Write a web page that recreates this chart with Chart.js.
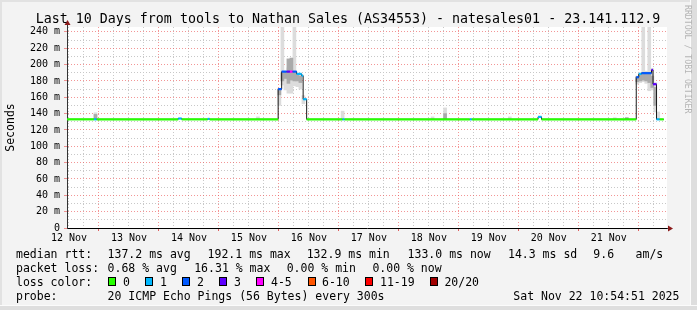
<!DOCTYPE html>
<html>
<head>
<meta charset="utf-8">
<script src="https://cdn.jsdelivr.net/npm/chart.js@4.4.1/dist/chart.umd.min.js"></script>
<style>
  body { margin: 0; background: #f3f3f3; }
  #frame { position: absolute; left: 0; top: 0; width: 697px; height: 310px; background: #f3f3f3; overflow: hidden; }
  #edgeR { position: absolute; left: 690px; top: 0; width: 7px; height: 310px; background: #dedede; border-left: 1px solid #fbfbfb; }
  #edgeB { position: absolute; left: 0; top: 305px; width: 697px; height: 5px; background: #dedede; border-top: 1px solid #fbfbfb; }
  #edgeT { position: absolute; left: 0; top: 0; width: 697px; height: 2px; background: #e2e2e2; }
  #edgeL { position: absolute; left: 0; top: 0; width: 2px; height: 310px; background: #e2e2e2; }
  canvas { position: absolute; left: 0; top: 0; }
  .t { position: absolute; font-family: 'DejaVu Sans Mono', monospace; font-size: 11.5px; line-height: 14px; color: #000; white-space: pre; }
  #title { position: absolute; left: 0; top: 11px; width: 696px; text-align: center; font-family: 'DejaVu Sans Mono', monospace; font-size: 13.3px; line-height: 16px; color: #000; white-space: pre; }
  #credit { position: absolute; left: 683px; top: 5px; writing-mode: vertical-rl; font-family: 'DejaVu Sans Mono', monospace; font-size: 8.2px; color: #b4b4b4; white-space: pre; }
  .sq { position: absolute; width: 8px; height: 9px; box-sizing: border-box; border: 1px solid #000; top: 277px; }
</style>
</head>
<body>
<div id="frame">
  <div id="edgeT"></div><div id="edgeL"></div><div id="edgeR"></div><div id="edgeB"></div>
  <canvas id="chart" width="697" height="250"></canvas>
  <div id="title">Last 10 Days from tools to Nathan Sales (AS34553) - natesales01 - 23.141.112.9</div>
  <div id="credit">RRDTOOL / TOBI OETIKER</div>

  <div class="t" style="left:16px;top:247px">median rtt:</div>
  <div class="t" style="left:107.6px;top:247px">137.2 ms avg</div>
  <div class="t" style="left:207.6px;top:247px">192.1 ms max</div>
  <div class="t" style="left:306.7px;top:247px">132.9 ms min</div>
  <div class="t" style="left:407.6px;top:247px">133.0 ms now</div>
  <div class="t" style="left:508px;top:247px">14.3 ms sd</div>
  <div class="t" style="left:593.3px;top:247px">9.6</div>
  <div class="t" style="left:635.6px;top:247px">am/s</div>

  <div class="t" style="left:16px;top:261px">packet loss:</div>
  <div class="t" style="left:107.6px;top:261px">0.68 % avg</div>
  <div class="t" style="left:194.2px;top:261px">16.31 % max</div>
  <div class="t" style="left:286.7px;top:261px">0.00 % min</div>
  <div class="t" style="left:372.4px;top:261px">0.00 % now</div>

  <div class="t" style="left:16px;top:275px">loss color:</div>
  <div id="lossLegend"></div>

  <div class="t" style="left:16px;top:289px">probe:</div>
  <div class="t" style="left:107.6px;top:289px">20 ICMP Echo Pings (56 Bytes) every 300s</div>
  <div class="t" style="left:513.3px;top:289px">Sat Nov 22 10:54:51 2025</div>
</div>
<script>
// time is in hours since 12 Nov 00:00, values in ms
const axisStart = 11.2;
const axisEnd = 251.3;

// median rtt, one step per entry: start time, value, lost pings
const medTime  = [11.2, 22.0, 23.1, 55.7, 57.1, 67.5, 68.3, 95.7, 97.1, 99.1, 100.4, 101.5, 103.1, 105.1, 105.7, 107.1, 121.5, 122.3, 172.4, 173.2, 199.7, 201.1, 239.0, 240.0, 241.1, 245.1, 245.7, 247.1, 248.4];
const medValue = [133, 133, 133, 134, 133, 133.5, 133, 170, 191.4, 191.4, 191.4, 191.4, 188.6, 186.5, 157.6, 133, 133, 133, 133, 133, 136, 133, 184.5, 188.6, 189.5, 193.5, 176, 133, 133];
const medLoss  = [0, 1, 0, 1, 0, 1, 0, 2, 2, 3, 5, 2, 1, 1, 1, 0, 1, 0, 1, 0, 1, 0, 2, 1, 2, 3, 3, 1, 0];
const medEnd = 250.0;

// smoke (spread of the individual pings)
const smokeTime  = [22.6, 87.6, 96.2, 97.4, 98.6, 99.8, 101.0, 102.2, 103.4, 104.6, 105.8, 121.5, 157.5, 162.5, 188.4, 230.4, 235.2, 239.4, 240.6, 241.8, 243.0, 244.2, 245.4, 246.6, 247.8];
const smokeLow   = [133, 133, 150, 175, 169, 165, 165, 174, 173, 170, 152, 133, 133, 133, 133, 133, 133, 176, 178, 179, 177, 168, 169, 142, 134];
const smokeHigh  = [141, 136, 171, 246, 192, 196, 206, 246, 189, 188, 162, 143, 136, 147, 136, 135, 135, 186, 190, 246, 192, 246, 195, 178, 142];
const smokeMidLow  = [133, null, 163, 180, 183, 177, 181, 180, 180, 178, null, null, null, 133, null, null, 133, 179, 180, 181, 180, 178, 172, 150, null];
const smokeMidHigh = [139, null, 170, 190, 191, 207, 208, 190, 188, 186, null, null, null, 140, null, null, 135, 185, 188, 190, 189, 190, 186, 172, null];

const lossLabels = ['0', '1', '2', '3', '4-5', '6-10', '11-19', '20/20'];
const lossColors = ['#26ff00', '#00b8ff', '#0059ff', '#5e00ff', '#ff00ff', '#ff5500', '#ff0000', '#a10000'];

function lossBucket(n) {
    if (n <= 3) return n;
    if (n <= 5) return 4;
    if (n <= 10) return 5;
    if (n <= 19) return 6;
    return 7;
}

// loss colour legend
const legendBox = document.getElementById('lossLegend');
const sqLeft = [108, 145.3, 182.2, 219, 256.4, 307.6, 365.3, 430.2];
const txtLeft = [123, 160, 196.9, 234, 271, 322, 380, 444.4];
lossLabels.forEach((label, i) => {
    const sq = document.createElement('div');
    sq.className = 'sq';
    sq.style.left = sqLeft[i] + 'px';
    sq.style.background = lossColors[i];
    legendBox.appendChild(sq);
    const tx = document.createElement('div');
    tx.className = 't';
    tx.style.left = txtLeft[i] + 'px';
    tx.style.top = '275px';
    tx.textContent = label;
    legendBox.appendChild(tx);
});

const medianSteps = medTime.map((t, i) => ({x: t, y: medValue[i]}));
medianSteps.push({x: medEnd, y: medValue[medValue.length - 1]});

const medianColored = [];
medTime.forEach((t, i) => {
    const t1 = i + 1 < medTime.length ? medTime[i + 1] : medEnd;
    medianColored.push({x: t, y: medValue[i]}, {x: t1, y: medValue[i]}, {x: t1, y: null});
});

const majorGrid = 'rgba(235, 80, 80, 0.6)';
const minorGrid = '#c8c8c8';
const tickFont = {family: 'DejaVu Sans Mono', size: 10};

const plotFrame = {
    id: 'plotFrame',
    beforeDraw(chart) {
        const {ctx, chartArea: a} = chart;
        ctx.save();
        ctx.fillStyle = '#ffffff';
        ctx.fillRect(a.left, a.top, a.right - a.left, a.bottom - a.top);
        ctx.restore();
    },
    afterDraw(chart) {
        const {ctx, chartArea: a} = chart;
        ctx.save();
        ctx.strokeStyle = '#333';
        ctx.lineWidth = 1;
        ctx.beginPath();
        ctx.moveTo(a.left + 0.5, a.top);
        ctx.lineTo(a.left + 0.5, a.top - 4);
        ctx.moveTo(a.right, a.bottom + 0.5);
        ctx.lineTo(a.right + 3, a.bottom + 0.5);
        ctx.stroke();
        ctx.fillStyle = '#8b1a1a';
        ctx.beginPath();
        ctx.moveTo(a.left + 0.5, a.top - 7);
        ctx.lineTo(a.left - 2.5, a.top - 2);
        ctx.lineTo(a.left + 3.5, a.top - 2);
        ctx.fill();
        ctx.beginPath();
        ctx.moveTo(a.right + 6, a.bottom + 0.5);
        ctx.lineTo(a.right + 1, a.bottom - 2.5);
        ctx.lineTo(a.right + 1, a.bottom + 3.5);
        ctx.fill();
        ctx.restore();
    }
};

new Chart(document.getElementById('chart').getContext('2d'), {
    type: 'line',
    data: {
        datasets: [
            {
                type: 'bar',
                data: smokeTime.map((t, i) => ({x: t, y: [smokeLow[i], smokeHigh[i]]})),
                backgroundColor: '#dcdcdc',
                borderWidth: 0,
                barThickness: 3,
                grouped: false,
                order: 4
            },
            {
                type: 'bar',
                data: smokeTime.map((t, i) => ({x: t, y: smokeMidLow[i] === null ? null : [smokeMidLow[i], smokeMidHigh[i]]})),
                backgroundColor: '#aaaaaa',
                borderWidth: 0,
                barThickness: 3,
                grouped: false,
                order: 3
            },
            {
                data: medianSteps,
                stepped: true,
                borderColor: '#1c1c1c',
                borderWidth: 1,
                pointRadius: 0,
                order: 2
            },
            {
                data: medianColored,
                borderColor: lossColors[0],
                borderWidth: 2.2,
                borderCapStyle: 'butt',
                pointRadius: 0,
                spanGaps: false,
                segment: {
                    borderColor: ctx => lossColors[lossBucket(medLoss[Math.floor(ctx.p0DataIndex / 3)])]
                },
                order: 1
            }
        ]
    },
    options: {
        responsive: false,
        animation: false,
        events: [],
        layout: {padding: {left: 0, top: 27, right: 30, bottom: 0}},
        plugins: {legend: {display: false}, tooltip: {enabled: false}},
        scales: {
            x: {
                type: 'linear',
                min: axisStart,
                max: axisEnd,
                offset: false,
                afterFit: s => { s.height = 22; },
                grid: {
                    offset: false,
                    color: ctx => ctx.tick.value % 24 === 0 ? majorGrid : minorGrid,
                    tickColor: ctx => ctx.tick.value % 24 === 0 ? '#e06060' : 'transparent',
                    tickLength: 3
                },
                border: {color: '#000', width: 1, dash: [1, 2]},
                ticks: {
                    stepSize: 6,
                    includeBounds: false,
                    autoSkip: false,
                    maxRotation: 0,
                    padding: 1,
                    color: '#000',
                    font: tickFont,
                    callback: v => v % 24 === 12 ? (12 + (v - 12) / 24) + ' Nov' : ''
                }
            },
            y: {
                min: 0,
                max: 246,
                afterFit: s => { s.width = 67; },
                title: {
                    display: true,
                    text: 'Seconds',
                    color: '#000',
                    font: {family: 'DejaVu Sans Mono', size: 11.5},
                    padding: {top: 4, bottom: 0}
                },
                grid: {
                    color: ctx => ctx.tick.value % 20 === 0 ? majorGrid : minorGrid,
                    tickColor: ctx => ctx.tick.value % 20 === 0 ? majorGrid : 'transparent',
                    tickLength: 3
                },
                border: {color: '#333', width: 1, dash: [1, 2]},
                ticks: {
                    stepSize: 10,
                    includeBounds: false,
                    autoSkip: false,
                    padding: 4,
                    color: '#000',
                    font: tickFont,
                    callback: v => v % 20 === 0 ? (v === 0 ? '0' : v + ' m') : ''
                }
            }
        }
    },
    plugins: [plotFrame]
});
</script>
</body>
</html>
